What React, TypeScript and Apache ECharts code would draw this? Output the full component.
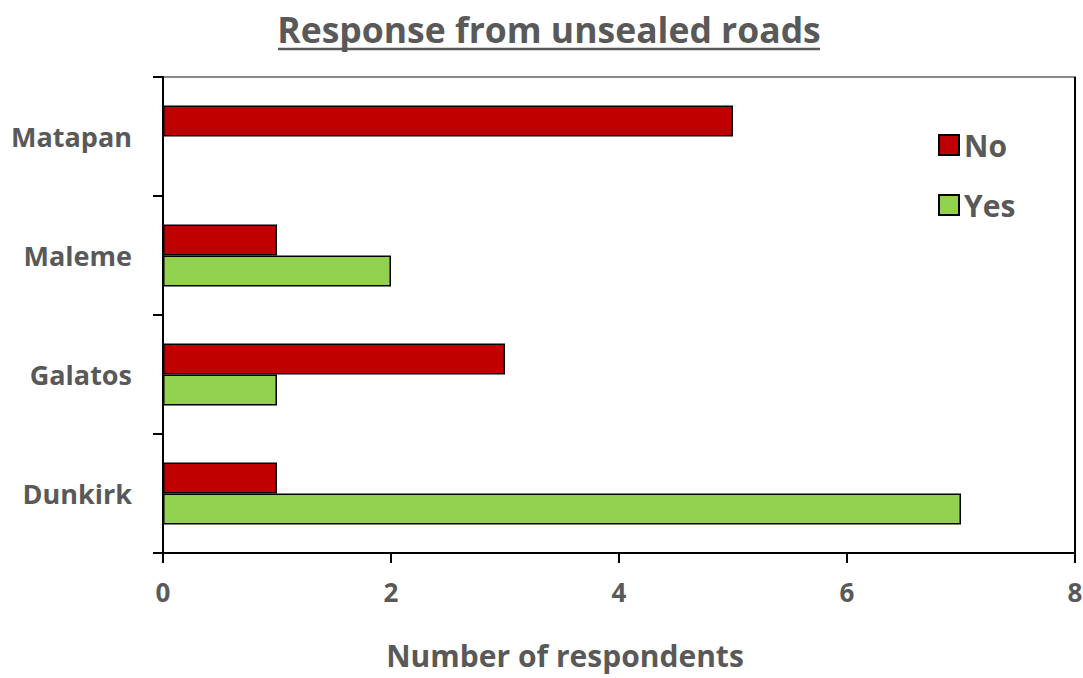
import React, { useEffect, useRef } from "react";
import * as echarts from "echarts";

const categories = ["Dunkirk", "Galatos", "Maleme", "Matapan"];
const noValues = [1, 3, 1, 5];
const yesValues = [7, 1, 2, 0];
const xTicks = { min: 0, max: 8, interval: 2 };
const titleText = "Response from unsealed roads";
const xAxisName = "Number of respondents";

const FONT = "Open Sans";
const GRAY = "#595959";

export default function App() {
  const ref = useRef<HTMLDivElement>(null);
  useEffect(() => {
    document.body.style.margin = "0";
    const chart = echarts.init(ref.current!, null, { renderer: "svg" });
    chart.setOption({
      animation: false,
      textStyle: { fontFamily: FONT },
      title: {
        text: titleText,
        left: 544,
        textAlign: "center",
        top: 6,
        textStyle: { fontFamily: FONT, fontSize: 35.5, fontWeight: "bold", color: GRAY },
      },
      graphic: [
        {
          type: "line",
          shape: { x1: 278, y1: 49, x2: 820, y2: 49 },
          style: { stroke: GRAY, lineWidth: 2.5 },
        },
        {
          type: "line",
          shape: { x1: 1075, y1: 77, x2: 1075, y2: 563 },
          style: { stroke: "#000", lineWidth: 2 },
        },
      ],
      legend: {
        orient: "vertical",
        left: 933,
        top: 125,
        itemWidth: 20,
        itemHeight: 20,
        itemGap: 30,
        itemTextGap: 8,
        icon: "rect",
        data: ["No", "Yes"],
        textStyle: { fontFamily: FONT, fontSize: 30, fontWeight: "bold", color: GRAY },
      },
      grid: {
        left: 163,
        top: 77,
        right: 8,
        bottom: 125,
        outerBoundsMode: "none",
        containLabel: false,
        show: true,
        borderColor: "#8a8a8a",
        borderWidth: 2,
      },
      xAxis: {
        type: "value",
        min: xTicks.min,
        max: xTicks.max,
        interval: xTicks.interval,
        name: xAxisName,
        nameLocation: "middle",
        nameGap: 86,
        nameTextStyle: {
          fontFamily: FONT,
          fontSize: 30,
          lineHeight: 32,
          fontWeight: "bold",
          color: GRAY,
          padding: [0, 108, 0, 0],
        },
        axisLine: { show: true, lineStyle: { color: "#000", width: 2 } },
        axisTick: { show: true, length: 10, lineStyle: { color: "#000", width: 2 } },
        splitLine: { show: false },
        axisLabel: { fontFamily: FONT, fontSize: 26, fontWeight: "bold", color: GRAY, margin: 26 },
      },
      yAxis: {
        type: "category",
        data: categories,
        axisLine: { show: true, lineStyle: { color: "#000", width: 2 } },
        axisTick: { show: true, length: 10, lineStyle: { color: "#000", width: 2 } },
        axisLabel: { fontFamily: FONT, fontSize: 27, fontWeight: "bold", color: GRAY, margin: 31 },
      },
      series: [
        {
          name: "No",
          type: "bar",
          data: noValues,
          barWidth: 31,
          barGap: "0%",
          itemStyle: { color: "#C00000", borderColor: "#000", borderWidth: 1.5 },
        },
        {
          name: "Yes",
          type: "bar",
          data: yesValues,
          barWidth: 31,
          barGap: "0%",
          itemStyle: { color: "#92D050", borderColor: "#000", borderWidth: 1.5 },
        },
      ],
    });
    return () => chart.dispose();
  }, []);
  return <div ref={ref} style={{ width: 1083, height: 678 }} />;
}
